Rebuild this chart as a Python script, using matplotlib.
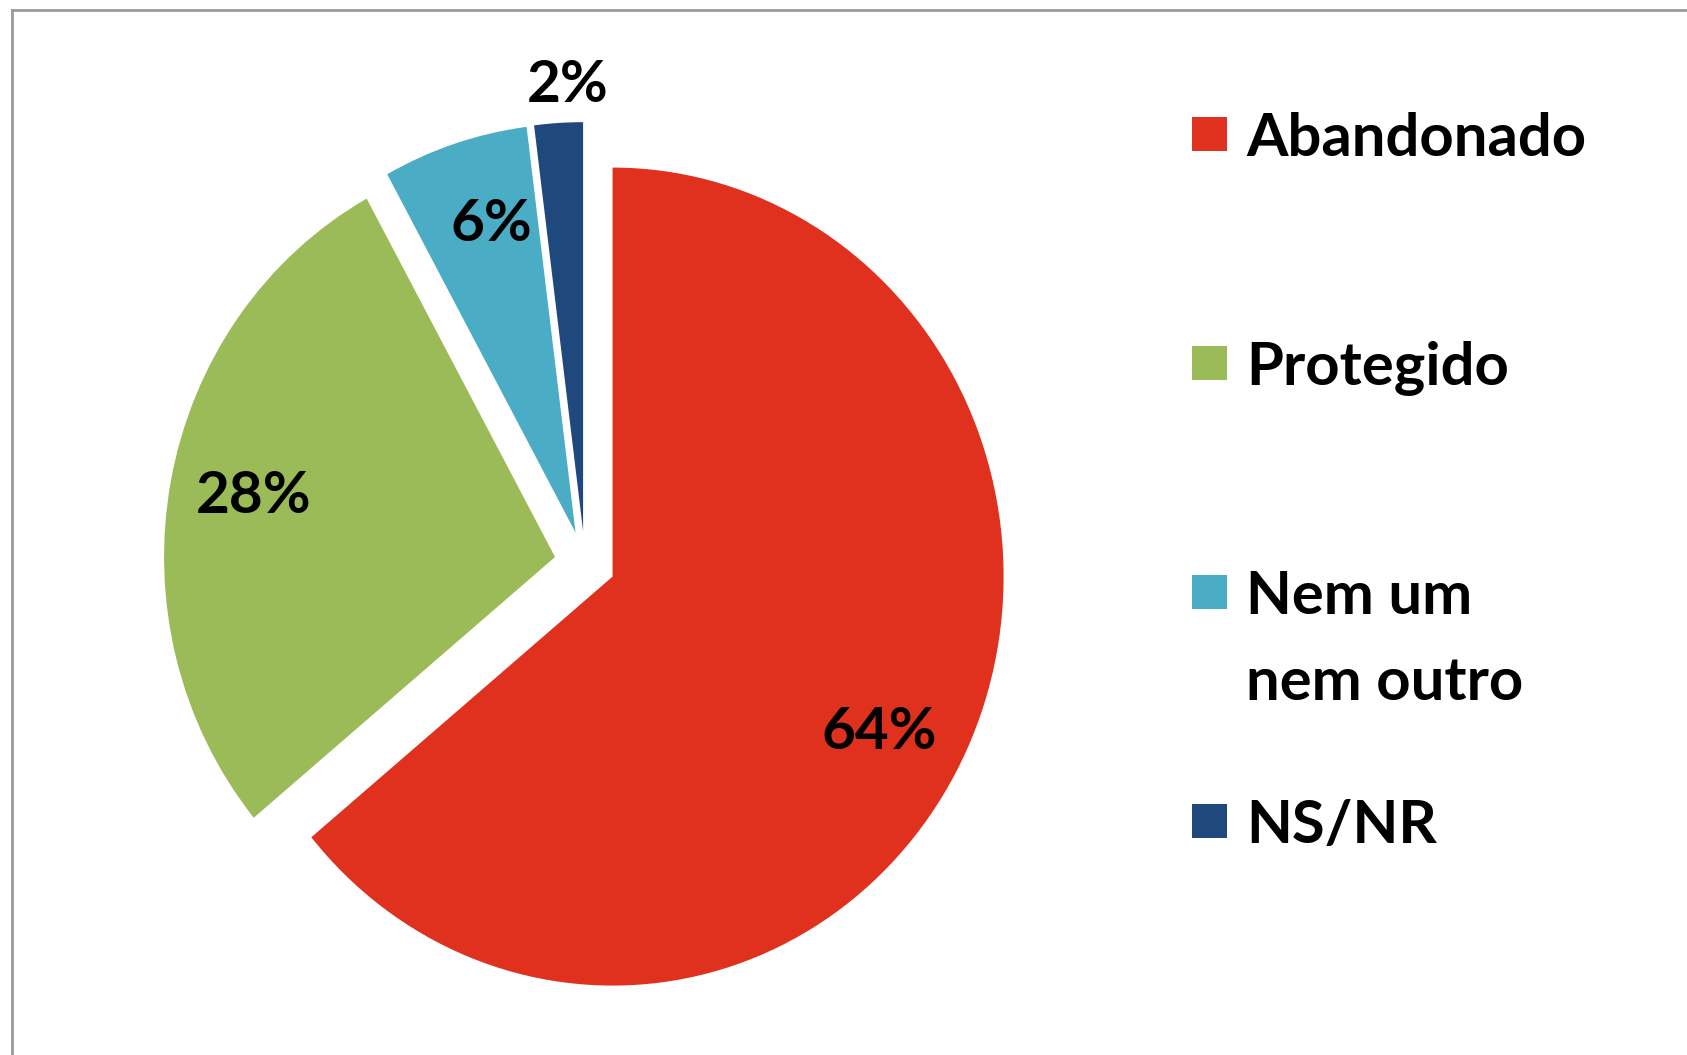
import matplotlib
matplotlib.use("Agg")
import matplotlib.pyplot as plt
import numpy as np
from matplotlib.patches import Rectangle
from matplotlib.lines import Line2D

categories = ["Abandonado", "Protegido", "Nem um\nnem outro", "NS/NR"]
shares = [64, 28, 6, 2]
colors = ["#E0301E", "#9BBB59", "#4BACC6", "#1F497D"]

plt.rcParams['font.family'] = ['Lato', 'DejaVu Sans']

W, H = 1687, 1055
fig = plt.figure(figsize=(W / 100, H / 100), dpi=100)
fig.patch.set_facecolor("white")

# pie centre and radii in pixels (the picture is a bit squeezed sideways)
cx, cy = 585, 563
rx, ry = 391, 409
lim = 1.2
ax = fig.add_axes([(cx - lim * rx) / W, (H - cy - lim * ry) / H,
                   2 * lim * rx / W, 2 * lim * ry / H])

wedges, texts = ax.pie(shares, colors=colors, startangle=90, counterclock=False,
                       explode=[0.078] * len(shares), wedgeprops=dict(linewidth=0))
ax.set_aspect("auto")
ax.set_xlim(-lim, lim)
ax.set_ylim(-lim, lim)

# percentage labels (excel "best fit"), small slice gets its label outside
lab_r = [0.78, 0.785, 0.785, 1.09]
lab_turn = [-4, 0, -2, -1.5]
for w, v, r, t in zip(wedges, shares, lab_r, lab_turn):
    ang = np.deg2rad((w.theta1 + w.theta2) / 2 + t)
    x = w.center[0] + r * np.cos(ang)
    y = w.center[1] + r * np.sin(ang)
    ax.text(x, y, f"{v}%", ha='center', va='center', fontsize=42,
            fontweight='bold', color='black')

# legend drawn by hand so the square sits on the first text line
lx_box, lx_text = 1192, 1246
ly0, ly_step, line_h = 134, 229, 86
for i, (lab, col) in enumerate(zip(categories, colors)):
    y = ly0 + i * ly_step
    fig.add_artist(Rectangle((lx_box / W, (H - y - 17) / H), 35 / W, 34 / H,
                             transform=fig.transFigure, color=col, lw=0))
    for j, line in enumerate(lab.split("\n")):
        fig.text(lx_text / W, (H - (y + 22 + j * line_h)) / H, line,
                 ha='left', va='baseline', fontsize=43, fontweight='bold',
                 color='black')

# grey frame at top and left
fig.add_artist(Line2D([12 / W, 1], [(H - 10) / H, (H - 10) / H],
                      transform=fig.transFigure, color='#9a9a9a', lw=2))
fig.add_artist(Line2D([12 / W, 12 / W], [0, (H - 10) / H],
                      transform=fig.transFigure, color='#9a9a9a', lw=2))

fig.savefig("out.png", dpi=100)
